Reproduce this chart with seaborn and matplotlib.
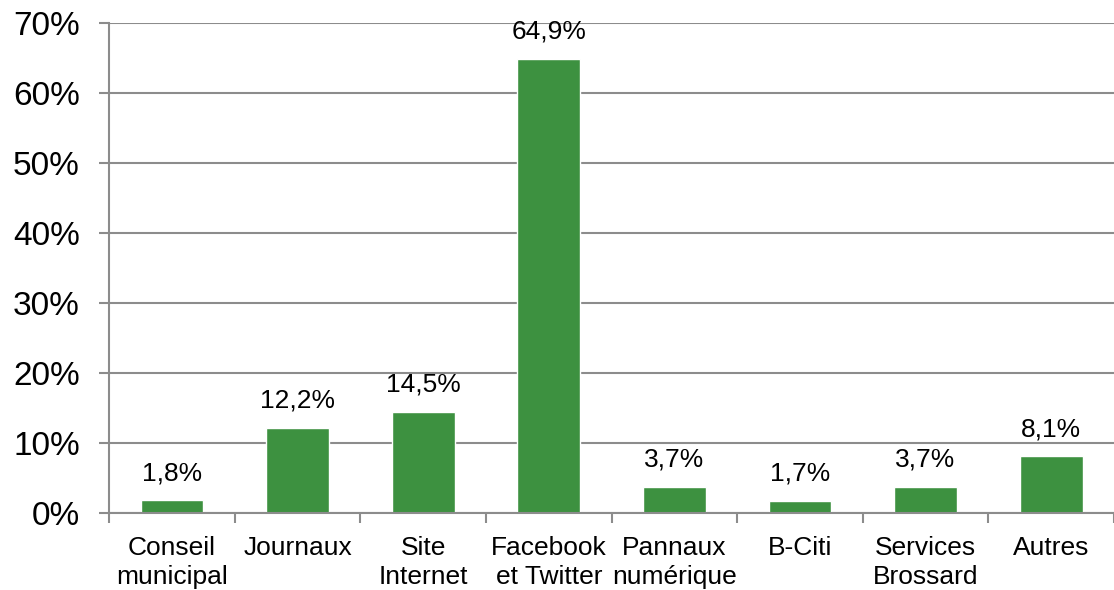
import pandas as pd
import numpy as np
import seaborn as sns
import matplotlib.pyplot as plt
from matplotlib.ticker import FixedLocator

categories = ['Conseil\nmunicipal', 'Journaux', 'Site\nInternet', 'Facebook\net Twitter',
              'Pannaux\nnumérique', 'B-Citi', 'Services\nBrossard', 'Autres']
values = [1.8, 12.2, 14.5, 64.9, 3.7, 1.7, 3.7, 8.1]
yticks = [0, 10, 20, 30, 40, 50, 60, 70]

df = pd.DataFrame({'canal': categories, 'pct': values})

sns.set_style('white')
plt.rcParams['font.family'] = ['Liberation Sans', 'DejaVu Sans']
plt.rcParams['text.color'] = 'black'
plt.rcParams['xtick.labelcolor'] = 'black'
plt.rcParams['ytick.labelcolor'] = 'black'

grey = '#8c8c8c'
green = '#3d9140'

fig = plt.figure(figsize=(11.14, 5.9), dpi=100)
ax = fig.add_axes([0.098, 0.1305, 0.902, 0.8305])
ax.set_axisbelow(True)
ax.yaxis.grid(True, color=grey, linewidth=1.5)
sns.barplot(x='canal', y='pct', data=df, color=green, width=0.5, saturation=1, ax=ax)

ax.set_xlim(-0.5, len(categories) - 0.5)
ax.set_ylim(0, 70)
ax.set_yticks(yticks)
ax.set_yticklabels(['%d%%' % t for t in yticks], fontsize=24)
ax.set_xlabel('')
ax.set_ylabel('')
ax.tick_params(axis='x', which='major', length=0, pad=16.5, labelsize=19)
for lbl in ax.get_xticklabels():
    lbl.set_linespacing(1.25)
ax.xaxis.set_minor_locator(FixedLocator(np.arange(-0.5, len(categories), 1.0)))
ax.tick_params(axis='x', which='minor', length=7, width=1.5, color=grey, direction='out')
ax.tick_params(axis='y', length=7, width=1.5, color=grey, direction='out', pad=14)
ax.yaxis.set_tick_params(left=True)
ax.xaxis.set_tick_params(which='minor', bottom=True)

for s in ['top', 'right']:
    ax.spines[s].set_visible(False)
for s in ['left', 'bottom']:
    ax.spines[s].set_color(grey)
    ax.spines[s].set_linewidth(1.5)

for i, v in enumerate(values):
    ax.annotate(('%.1f%%' % v).replace('.', ','), (i, v), xytext=(0, 11),
                textcoords='offset points', ha='center', va='bottom', fontsize=19)

fig.savefig('out.png', dpi=100)
